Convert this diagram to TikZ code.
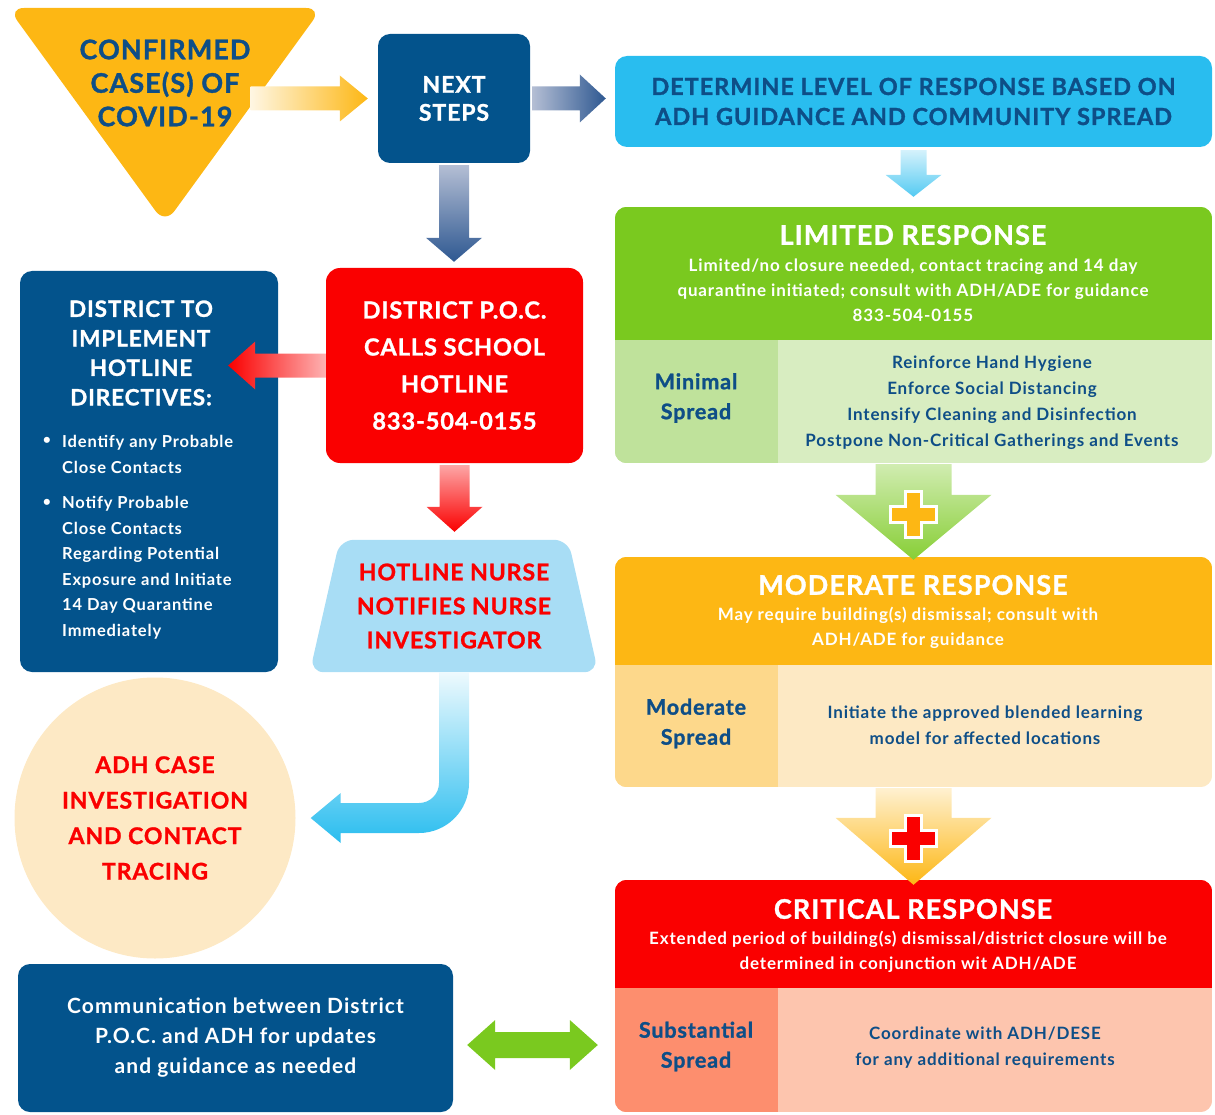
\documentclass[tikz,border=0pt]{standalone}
\usepackage{fontspec}
\setmainfont{Lato}
\newfontfamily\heavyfont{Lato}[LetterSpace=4, FakeBold=1.2]
\newfontfamily\plainfont{Lato}[LetterSpace=5]
\usetikzlibrary{calc,positioning}

\definecolor{navy}{RGB}{3,83,140}
\definecolor{navytext}{RGB}{14,78,135}
\definecolor{cyanbox}{RGB}{41,189,239}
\definecolor{limgreen}{RGB}{122,201,31}
\definecolor{limleft}{RGB}{191,226,155}
\definecolor{limright}{RGB}{216,237,193}
\definecolor{modorange}{RGB}{253,183,20}
\definecolor{modleft}{RGB}{253,216,139}
\definecolor{modright}{RGB}{253,233,196}
\definecolor{critred}{RGB}{250,0,0}
\definecolor{critleft}{RGB}{253,142,110}
\definecolor{critright}{RGB}{253,197,174}
\definecolor{nurseblue}{RGB}{168,221,245}
\definecolor{peach}{RGB}{253,233,197}
\definecolor{greyblue}{RGB}{180,190,212}
\definecolor{deepblue}{RGB}{46,88,145}

\newcommand\hv[2]{\fontsize{#1}{#2}\selectfont\heavyfont\bfseries}
\newcommand\bd[2]{\fontsize{#1}{#2}\selectfont\plainfont\bfseries}

% block arrows: style, from, to, half shaft, half head, head length
\newcommand\hblock[6]{\path[#1] let \p1=(#2), \p2=(#3), \n1={\x2-(#6pt)} in (\x1,{\y1+#4pt}) -- (\n1,{\y1+#4pt}) -- (\n1,{\y1+#5pt}) -- (\x2,\y1) -- (\n1,{\y1-#5pt}) -- (\n1,{\y1-#4pt}) -- (\x1,{\y1-#4pt}) -- cycle;}
\newcommand\vblock[6]{\path[#1] let \p1=(#2), \p2=(#3) in ({\x1-#4pt},\y1) -- ({\x1-#4pt},{\y2+#6pt}) -- ({\x1-#5pt},{\y2+#6pt}) -- (\x1,\y2) -- ({\x1+#5pt},{\y2+#6pt}) -- ({\x1+#4pt},{\y2+#6pt}) -- ({\x1+#4pt},\y1) -- cycle;}

% response level box: node, top height, top, left, right colours
\newcommand\respbox[5]{%
\begin{scope}
\clip[rounded corners=12] (#1.north west) rectangle (#1.south east);
\fill[#5] (#1.north west) rectangle (#1.south east);
\fill[#4] ($(#1.north west)+(0,#2)$) rectangle ($(#1.south west)+(163,0)$);
\fill[#3] (#1.north west) rectangle ($(#1.north east)+(0,#2)$);
\end{scope}}

\newcommand\plussign[2]{\fill[#2, draw=white, line width=3] ($(#1)+(-8,-23)$) -- ++(16,0) -- ++(0,15) -- ++(15,0) -- ++(0,16) -- ++(-15,0) -- ++(0,15) -- ++(-16,0) -- ++(0,-15) -- ++(-15,0) -- ++(0,-16) -- ++(15,0) -- cycle;}

\tikzset{
  navybox/.style={fill=navy, rounded corners=12, inner sep=0, text=white, align=center},
  levelframe/.style={inner sep=0, minimum width=597},
  capstext/.style={text=#1, align=center, inner sep=0},
  leveltitle/.style={text=white, align=center, inner sep=0, font=\hv{27}{30}},
  leveldesc/.style={text=white, align=center, inner sep=0, font=\bd{17}{25}},
  levelspread/.style={text=navytext, align=center, inner sep=0, font=\hv{21.5}{30}},
  levelsteps/.style={text=navytext, align=center, inner sep=0, font=\bd{17}{26}},
  itemtext/.style={text=white, align=left, inner sep=0, anchor=west, font=\bd{16.5}{25.5}},
  dotnode/.style={text=white, inner sep=0, font=\bd{14}{14}},
}

\begin{document}
\begin{tikzpicture}[x=1pt,y=-1pt]
\useasboundingbox (0,0) rectangle (1215,1115);

% top row
\fill[modorange, rounded corners=16] (8,8) -- (322,8) -- (165,224) -- cycle;
\node[capstext=navytext, font=\hv{27}{33.5}] (conf) at (165,83) {CONFIRMED\\CASE(S) OF\\COVID-19};
\node[navybox, minimum width=152, minimum height=129, font=\hv{23}{28}] (next) at (454,98.5) {NEXT\\STEPS};
\node[fill=cyanbox, rounded corners=12, minimum width=597, minimum height=91, text=navytext, align=center, font=\hv{23.5}{30}] (det) at (913.5,101.5) {DETERMINE LEVEL OF RESPONSE BASED ON\\ADH GUIDANCE AND COMMUNITY SPREAD};

% response levels
\node[levelframe, minimum height=256] (lim) at (913.5,335) {};
\node[levelframe, minimum height=230] (mod) at (913.5,672) {};
\node[levelframe, minimum height=232] (crit) at (913.5,996) {};
\respbox{lim}{133}{limgreen}{limleft}{limright}
\respbox{mod}{108}{modorange}{modleft}{modright}
\respbox{crit}{108}{critred}{critleft}{critright}

\node[leveltitle] (limtitle) at (913,235) {LIMITED RESPONSE};
\node[leveldesc] (limdesc) at (913,290.5) {Limited/no closure needed, contact tracing and 14 day\\quarantine initiated; consult with ADH/ADE for guidance\\833-504-0155};
\node[levelspread] (limspread) at (696,398) {Minimal\\Spread};
\node[levelsteps] (limsteps) at (992,403) {Reinforce Hand Hygiene\\Enforce Social Distancing\\Intensify Cleaning and Disinfection\\Postpone Non-Critical Gatherings and Events};

\node[leveltitle] (modtitle) at (913,585) {MODERATE RESPONSE};
\node[leveldesc] (moddesc) at (908,627.5) {May require building(s) dismissal; consult with\\ADH/ADE for guidance};
\node[levelspread] (modspread) at (696,723.5) {Moderate\\Spread};
\node[levelsteps] (modsteps) at (985,725) {Initiate the approved blended learning\\model for affected locations};

\node[leveltitle] (crittitle) at (913,909) {CRITICAL RESPONSE};
\node[leveldesc] (critdesc) at (908,951.5) {Extended period of building(s) dismissal/district closure will be\\determined in conjunction wit ADH/ADE};
\node[levelspread] (critspread) at (696,1046.5) {Substantial\\Spread};
\node[levelsteps] (critsteps) at (985,1048) {Coordinate with ADH/DESE\\for any additional requirements};

% left column
\node[navybox, minimum width=258, minimum height=401] (dir) at (149,471.5) {};
\node[capstext=white, font=\hv{22.5}{29.5}] (dirtitle) at (141,353) {DISTRICT TO\\IMPLEMENT\\HOTLINE\\DIRECTIVES:};
\node[dotnode] (dot1) at (47,441) {\textbullet};
\node[itemtext] (item1) at (62,454.5) {Identify any Probable\\Close Contacts};
\node[dotnode] (dot2) at (47,503) {\textbullet};
\node[itemtext] (item2) at (62,567.5) {Notify Probable\\Close Contacts\\Regarding Potential\\Exposure and Initiate\\14 Day Quarantine\\Immediately};

\node[fill=critred, rounded corners=14, minimum width=257, minimum height=195, text=white, align=center, font=\hv{23.5}{37}] (poc) at (454.5,365.5) {DISTRICT P.O.C.\\CALLS SCHOOL\\HOTLINE\\833-504-0155};

\node[inner sep=0, minimum width=288, minimum height=132] (nurse) at (454,606) {};
\fill[nurseblue, rounded corners=14] (nurse.south west) -- ($(nurse.north west)+(30,0)$) -- ($(nurse.north east)+(-30,0)$) -- (nurse.south east) -- cycle;
\node[capstext=critred, font=\hv{23}{34}] (nursetext) at (nurse) {HOTLINE NURSE\\NOTIFIES NURSE\\INVESTIGATOR};

\node[circle, fill=peach, minimum size=281, inner sep=0, text=critred, align=center, font=\hv{23}{35.5}] (adh) at (155,818) {ADH CASE\\INVESTIGATION\\AND CONTACT\\TRACING};

\node[navybox, minimum width=435, minimum height=148, font=\bd{21}{30}] (comm) at (235.5,1038) {Communication between District\\P.O.C. and ADH for updates\\and guidance as needed};

% arrows
\hblock{left color=modorange!12, right color=modorange}{conf.east |- next.west}{$(next.west)+(-10,0)$}{12}{23}{28}
\hblock{left color=greyblue, right color=deepblue}{$(next.east)+(2,0)$}{$(next.east -| det.west)+(-9,0)$}{12}{24}{26}
\vblock{top color=cyanbox!20, bottom color=cyanbox!80}{$(det.south)+(0,3)$}{$(lim.north)+(0,-10)$}{13}{28}{22}
\vblock{top color=greyblue, bottom color=deepblue}{$(next.south)+(0,2)$}{$(poc.north)+(0,-6)$}{15}{28}{24}
\hblock{left color=critred, right color=critred!30}{poc.west}{$(poc.west -| dir.east)+(-50,0)$}{12}{24}{-27}
\vblock{top color=critred!35, bottom color=critred}{$(poc.south)+(0,2)$}{$(nurse.north)+(0,-8)$}{15}{28}{25}
\vblock{top color=limgreen!35, bottom color=limgreen!90}{$(lim.south)+(0,1)$}{$(mod.north)+(0,3)$}{38}{78}{65}
\vblock{top color=modorange!20, bottom color=modorange}{$(mod.south)+(0,1)$}{$(crit.north)+(0,5)$}{38}{78}{67}
\coordinate (plusA) at ($(lim.south)!0.55!(mod.north)$);
\coordinate (plusB) at ($(mod.south)!0.55!(crit.north)$);
\plussign{plusA}{modorange}
\plussign{plusB}{critred}

\path[top color=cyanbox!8, bottom color=cyanbox] let \p1=(nurse.south), \p2=($(adh.east)+(15,0)$) in
  ({\x1-15pt},\y1) -- ({\x1-15pt},{\y2+35pt}) arc[start angle=0, end angle=-90, radius=20pt]
  -- ({\x2+30pt},{\y2+15pt}) -- ({\x2+30pt},{\y2+25pt}) -- (\x2,\y2) -- ({\x2+30pt},{\y2-25pt}) -- ({\x2+30pt},{\y2-15pt})
  -- ({\x1-35pt},{\y2-15pt}) arc[start angle=-90, end angle=0, radius=50pt] -- ({\x1+15pt},\y1) -- cycle;

\path[fill=limgreen] let \p1=($(comm.east)+(14,7)$), \p2=($(comm.east -| crit.west)+(-17,7)$) in
  (\x1,\y1) -- ({\x1+28pt},{\y1+25pt}) -- ({\x1+28pt},{\y1+13pt}) -- ({\x2-28pt},{\y1+13pt}) -- ({\x2-28pt},{\y1+25pt})
  -- (\x2,\y1) -- ({\x2-28pt},{\y1-25pt}) -- ({\x2-28pt},{\y1-13pt}) -- ({\x1+28pt},{\y1-13pt}) -- ({\x1+28pt},{\y1-25pt}) -- cycle;
\end{tikzpicture}
\end{document}
